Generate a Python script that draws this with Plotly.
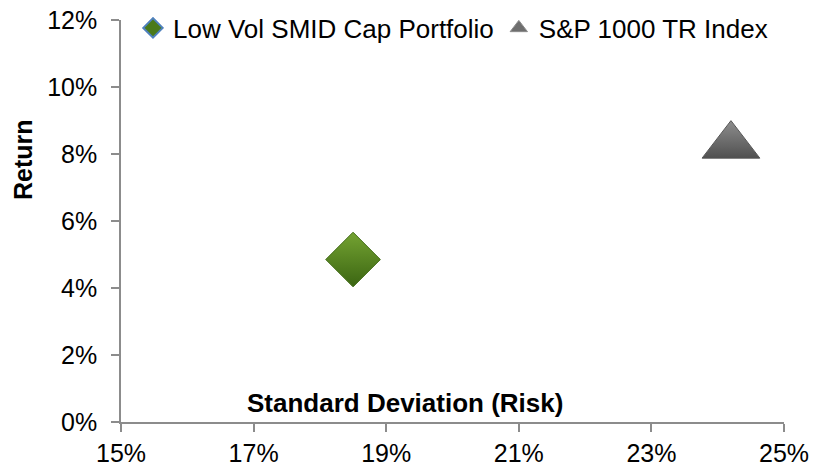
import plotly.graph_objects as go

# Data (percent)
series_names = ["Low Vol SMID Cap Portfolio", "S&P 1000 TR Index"]
risk = [18.5, 24.2]        # Standard deviation (%)
ret = [4.85, 8.25]         # Return (%)
x_ticks = [15, 17, 19, 21, 23, 25]
y_ticks = [0, 2, 4, 6, 8, 10, 12]
x_tick_labels = [f"{v}%" for v in x_ticks]
y_tick_labels = [f"{v}%" for v in y_ticks]

FONT = "Liberation Sans, Arial, sans-serif"
AXIS_GRAY = "#8c8c8c"

fig = go.Figure()

# Portfolio (green diamond)
fig.add_trace(go.Scatter(
    x=[risk[0]], y=[ret[0]], mode="markers", name=series_names[0],
    showlegend=False,
    marker=dict(symbol="diamond", size=42, color="#74a332",
                gradient=dict(type="vertical", color="#3b6512"),
                line=dict(color="#3f6a14", width=1)),
    hoverinfo="skip",
))
# Index (gray triangle)
fig.add_trace(go.Scatter(
    x=[risk[1]], y=[ret[1]], mode="markers", name=series_names[1],
    showlegend=False,
    marker=dict(symbol="triangle-up", size=50, color="#8e8e8e",
                gradient=dict(type="vertical", color="#505050"),
                line=dict(color="#555555", width=1)),
    hoverinfo="skip",
))

# Legend entries
fig.add_trace(go.Scatter(
    x=[None], y=[None], mode="markers", name=series_names[0],
    marker=dict(symbol="diamond", size=15, color="#4a7a1a",
                line=dict(color="#4f81bd", width=2)),
))
fig.add_trace(go.Scatter(
    x=[None], y=[None], mode="markers", name=series_names[1],
    marker=dict(symbol="triangle-up", size=15, color="#6e6e6e",
                line=dict(color="#8a8a8a", width=1)),
))

fig.update_layout(
    width=813, height=470,
    margin=dict(l=121, r=29, t=20, b=48, autoexpand=False),
    paper_bgcolor="white", plot_bgcolor="white",
    font=dict(family=FONT, size=25, color="black"),
    showlegend=True,
    legend=dict(orientation="h", x=(133 - 121) / 663, xanchor="left",
                y=1 - (28 - 20) / 402, yanchor="middle",
                bgcolor="rgba(0,0,0,0)", borderwidth=0, itemwidth=30,
                itemsizing="trace", font=dict(size=26, family=FONT),
                itemclick=False, itemdoubleclick=False),
    xaxis=dict(range=[15, 25], tickvals=x_ticks, ticktext=x_tick_labels,
               showgrid=False, zeroline=False, showline=True, linecolor=AXIS_GRAY,
               linewidth=1.5, ticks="outside", ticklen=8, tickcolor=AXIS_GRAY,
               tickwidth=1.5, ticklabelstandoff=0, tickfont=dict(size=25),
               fixedrange=True),
    yaxis=dict(range=[0, 12], tickvals=y_ticks, ticktext=y_tick_labels,
               showgrid=False, zeroline=False, showline=True, linecolor=AXIS_GRAY,
               linewidth=1.5, ticks="outside", ticklen=8, tickcolor=AXIS_GRAY,
               tickwidth=1.5, ticklabelstandoff=9, tickfont=dict(size=25),
               fixedrange=True),
    annotations=[
        dict(text="<b>Standard Deviation (Risk)</b>", xref="paper", yref="paper",
             x=(405 - 121) / 663, y=(422 - 403) / 402, xanchor="center", yanchor="middle",
             showarrow=False, font=dict(size=26, family=FONT, color="black")),
        dict(text="<b>Return</b>", xref="paper", yref="paper",
             x=-(121 - 23) / 663, y=(422 - 160) / 402, xanchor="center", yanchor="middle",
             textangle=-90, showarrow=False, font=dict(size=25, family=FONT, color="black")),
    ],
)

fig.write_html("out.html", config={"displayModeBar": False},
               post_script="document.body.style.margin='0';document.body.style.overflow='hidden';")
